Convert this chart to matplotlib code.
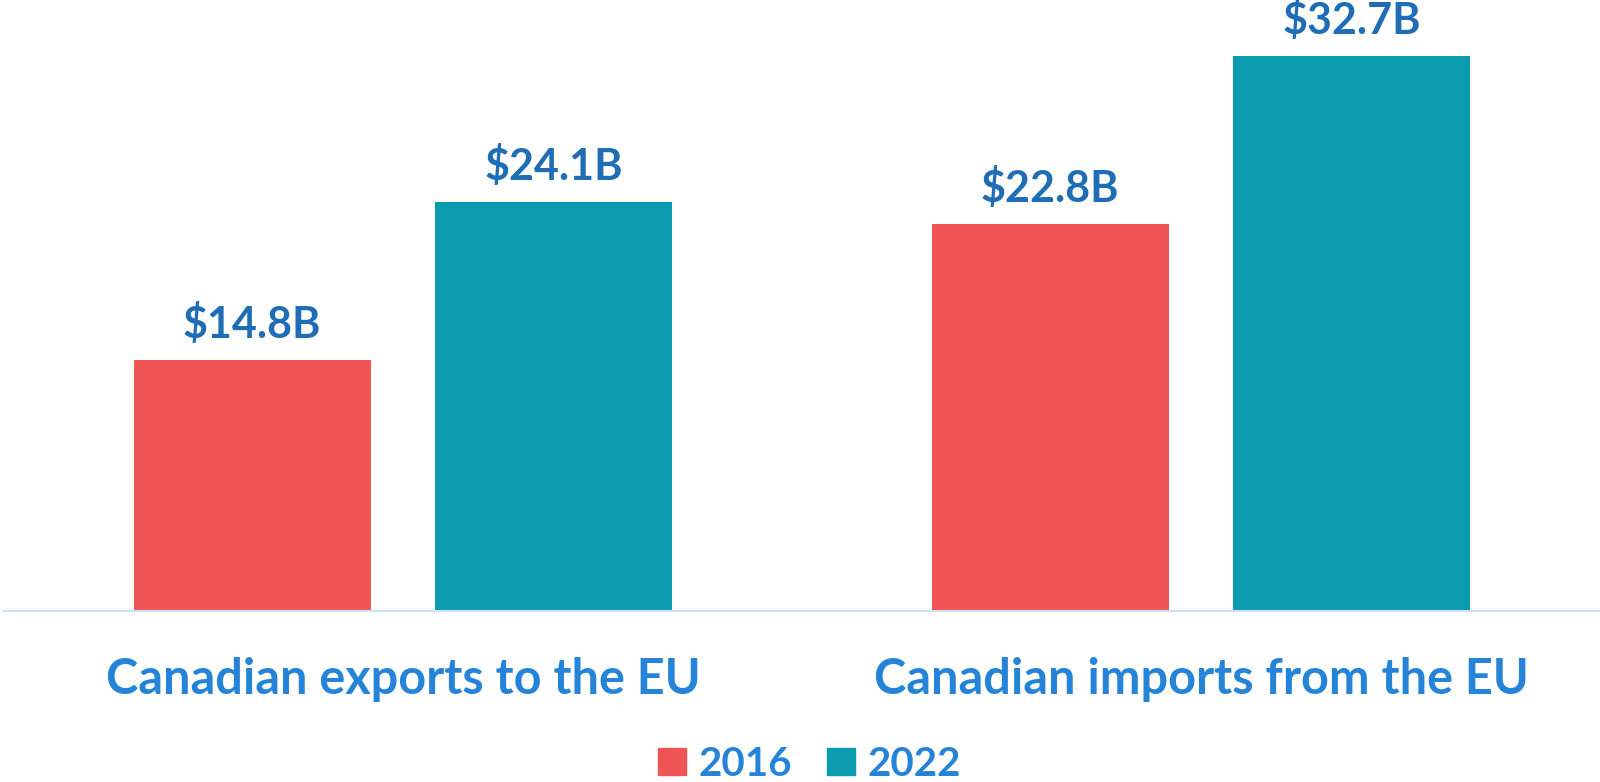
import numpy as np
import matplotlib
matplotlib.use("Agg")
import matplotlib.pyplot as plt
from matplotlib.patches import Patch

categories = ["Canadian exports to the EU", "Canadian imports from the EU"]
years = ["2016", "2022"]
values_2016 = [14.8, 22.8]
values_2022 = [24.1, 32.7]

red = "#F05455"
teal = "#0A9BAF"
label_blue = "#1F6EB5"
cat_blue = "#2583D8"

plt.rcParams["font.family"] = ["Lato", "DejaVu Sans"]

fig = plt.figure(figsize=(16, 7.82), dpi=100)
ax = fig.add_axes([0.0025, 1 - 611 / 782, 0.9975, 611 / 782])

x = np.arange(len(categories))
width = 0.297
offset = 0.189

bars1 = ax.bar(x - offset, values_2016, width, color=red)
bars2 = ax.bar(x + offset, values_2022, width, color=teal)

# value labels above each bar
for bars in (bars1, bars2):
    for b in bars:
        ax.text(
            b.get_x() + b.get_width() / 2,
            b.get_height() + 1.3,
            f"${b.get_height():.1f}B",
            ha="center",
            va="baseline",
            fontsize=31,
            fontweight="bold",
            color=label_blue,
        )

ax.set_xlim(-0.5, 1.5)
ax.set_ylim(0, 36)
ax.set_yticks([])
ax.set_xticks(x)
ax.set_xticklabels(categories, fontsize=35, fontweight="bold", color=cat_blue)
ax.tick_params(axis="x", length=0, pad=33)
for side in ("top", "right", "left"):
    ax.spines[side].set_visible(False)
ax.spines["bottom"].set_color("#CFE2F5")
ax.spines["bottom"].set_linewidth(1.5)

# legend sits at the very bottom edge, as in the original
handles = [Patch(color=red), Patch(color=teal)]
leg = fig.legend(
    handles,
    years,
    loc="center",
    bbox_to_anchor=(0.506, 1 - 764 / 782),
    ncol=2,
    frameon=False,
    handlelength=0.68,
    handleheight=0.68,
    handletextpad=0.32,
    columnspacing=0.87,
    borderpad=0,
    prop={"weight": "bold", "size": 29},
)
for t in leg.get_texts():
    t.set_color(cat_blue)

fig.savefig("out.png", dpi=100)
